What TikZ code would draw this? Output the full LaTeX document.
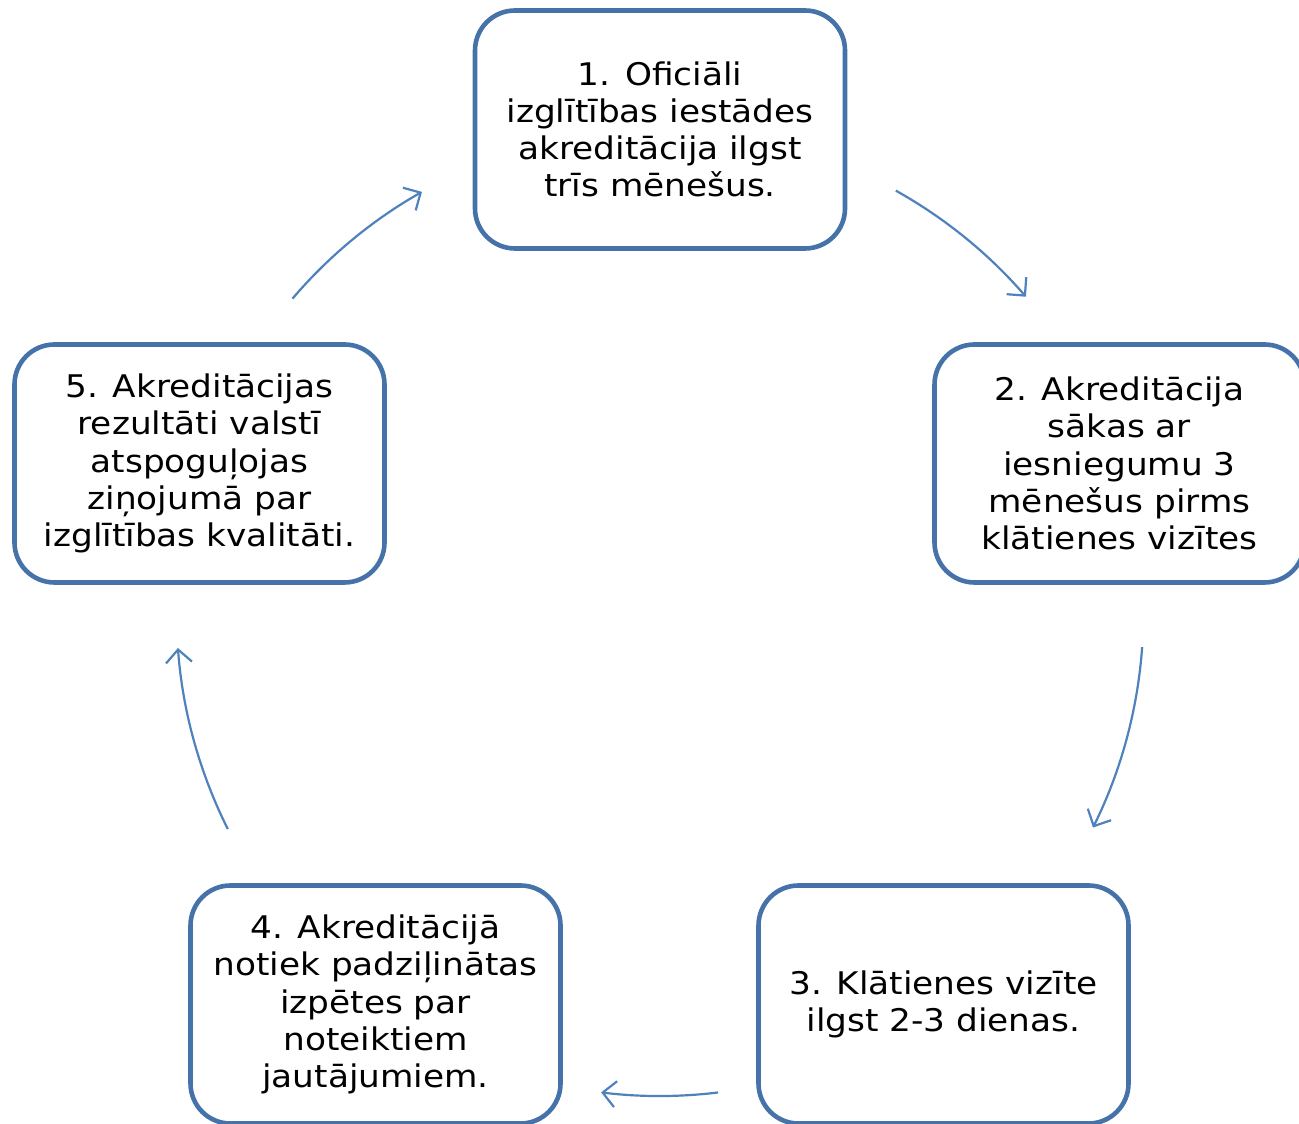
\documentclass[tikz,border=0pt]{standalone}
\usepackage{fontspec}
\setmainfont[FakeStretch=1.1]{DejaVu Sans}
\usetikzlibrary{arrows.meta}
\definecolor{boxblue}{RGB}{70,114,170}
\definecolor{arrowblue}{RGB}{79,129,189}

\begin{document}
\begin{tikzpicture}[x=0.5pt,y=0.5pt,
    stage/.style={draw=boxblue, line width=2.3pt, rounded corners=20pt, fill=white,
        minimum width=185pt, minimum height=119pt, align=center,
        font=\fontsize{15.6pt}{18.6pt}\selectfont},
    cyc/.style={draw=arrowblue, line width=1.1pt, -{Straight Barb[length=6.5pt,width=13pt]}}]
    \useasboundingbox (0,0) rectangle (1299,1123);
    \clip (0,0) rectangle (1299,1123);

    \coordinate (c) at (660,510.4);
    \def\rr{483.4}

    \node[stage] (s1) at (660,993.5) {1. Oficiāli\\izglītības iestādes\\akreditācija ilgst\\trīs mēnešus.};
    \node[stage] (s2) at (1119.5,659.5) {2. Akreditācija\\sākas ar\\iesniegumu 3\\mēnešus pirms\\klātienes vizītes};
    \node[stage] (s3) at (943.5,118.5) {3. Klātienes vizīte\\ilgst 2-3 dienas.};
    \node[stage] (s4) at (375.5,118.5) {4. Akreditācijā\\notiek padziļinātas\\izpētes par\\noteiktiem\\jautājumiem.};
    \node[stage] (s5) at (199.5,659.5) {5. Akreditācijas\\rezultāti valstī\\atspoguļojas\\ziņojumā par\\izglītības kvalitāti.};

    % arrows along the cycle
    \draw[cyc] ([shift={(139.5:\rr)}]c) arc[start angle=139.5, end angle=119.5, radius=\rr];
    \draw[cyc] ([shift={(60.8:\rr)}]c) arc[start angle=60.8, end angle=40.8, radius=\rr];
    \draw[cyc] ([shift={(-4.1:\rr)}]c) arc[start angle=-4.1, end angle=-26.4, radius=\rr];
    \draw[cyc] ([shift={(-83.1:\rr)}]c) arc[start angle=-83.1, end angle=-97.0, radius=\rr];
    \draw[cyc] ([shift={(206.6:\rr)}]c) arc[start angle=206.6, end angle=184.2, radius=\rr];
\end{tikzpicture}
\end{document}
